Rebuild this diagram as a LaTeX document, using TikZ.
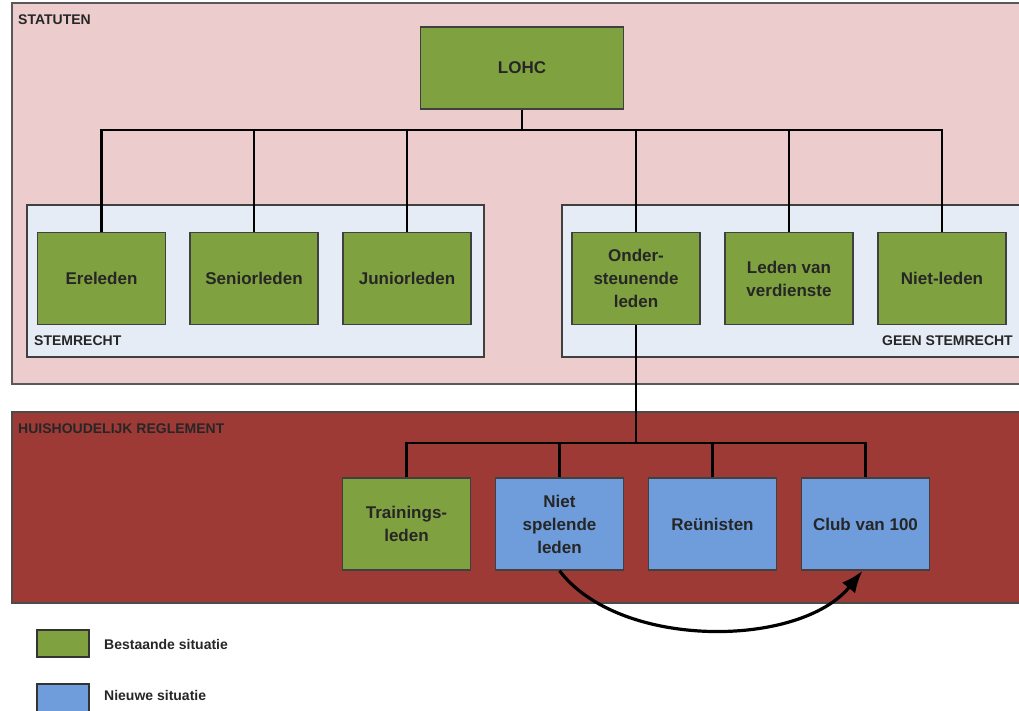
\documentclass[tikz,border=0pt]{standalone}
\usepackage{fontspec}
\setmainfont{Liberation Sans}
\usetikzlibrary{arrows.meta}

\definecolor{statbg}{RGB}{236,204,204}
\definecolor{hhrbg}{RGB}{158,58,54}
\definecolor{groupbg}{RGB}{230,236,246}
\definecolor{oudgroen}{RGB}{128,161,64}
\definecolor{nieuwblauw}{RGB}{111,157,220}

\tikzset{
  lid/.style={draw=black!75, line width=1.5pt, minimum width=128pt, minimum height=92pt,
    inner sep=2pt, align=center, text=black!85,
    font=\fontsize{17}{23}\selectfont\bfseries},
  oud/.style={lid, fill=oudgroen},
  nieuw/.style={lid, fill=nieuwblauw},
  tak/.style={line width=2.4pt},
  kop/.style={font=\fontsize{14}{16}\selectfont\bfseries, text=black!85, inner sep=0pt}
}

\begin{document}
\begin{tikzpicture}[x=1pt,y=-1pt]
	\useasboundingbox (0,0) rectangle (1019,711);
	\clip (0,0) rectangle (1019,711);

	% vlakken
	\filldraw[fill=statbg, draw=black!65, line width=1.5pt] (12,3) rectangle (1030,384);
	\filldraw[fill=hhrbg, draw=black!70, line width=1.5pt] (12,412) rectangle (1030,603);
	\filldraw[fill=groupbg, draw=black!75, line width=1.5pt] (27,205) rectangle (484,357);
	\filldraw[fill=groupbg, draw=black!75, line width=1.5pt] (562,205) rectangle (1030,357);

	\node[kop, anchor=base west] (statuten) at (18,25) {STATUTEN};
	\node[kop, anchor=base west] (hhr) at (18,433) {HUISHOUDELIJK REGLEMENT};
	\node[kop, anchor=base west] (stem) at (34,345) {STEMRECHT};
	\node[kop, anchor=base east] (geenstem) at (1013,345) {GEEN STEMRECHT};

	% leden
	\node[oud, minimum width=203pt, minimum height=82pt] (lohc) at (522,68) {LOHC};

	\node[oud] (ere) at (101.5,278.5) {Ereleden};
	\node[oud] (senior) at (254,278.5) {Seniorleden};
	\node[oud] (junior) at (407,278.5) {Juniorleden};
	\node[oud] (onder) at (636,278.5) {Onder-\\steunende\\leden};
	\node[oud] (verd) at (789,278.5) {Leden van\\verdienste};
	\node[oud] (niet) at (942,278.5) {Niet-leden};

	\node[oud] (train) at (406.5,524) {Trainings-\\leden};
	\node[nieuw] (nietsp) at (559.5,524) {Niet\\spelende\\leden};
	\node[nieuw] (reun) at (712.5,524) {Reünisten};
	\node[nieuw] (club) at (865.5,524) {Club van 100};

	% verbindingen
	\coordinate (bus) at (522,130);
	\draw[tak] (lohc.south) -- (bus);
	\foreach \n in {ere,senior,junior,onder,verd,niet}
		\draw[tak] (bus) -| (\n.north);

	\coordinate (bus2) at (636,443);
	\draw[tak] (onder.south) -- (bus2);
	\foreach \n in {train,nietsp,reun,club}
		\draw[tak] (bus2) -| (\n.north);

	\draw[line width=3.2pt, -{Latex[length=22pt,width=17pt]}]
		(nietsp.south) .. controls (620,650) and (800,648) .. ([xshift=-3pt]club.south);

	% legenda
	\node[draw=black!80, line width=1.5pt, fill=oudgroen, minimum width=52pt, minimum height=27pt] (lgoud) at (63,643.5) {};
	\node[kop, anchor=base west] (lgoudtxt) at (104,649) {Bestaande situatie};
	\node[draw=black!80, line width=1.5pt, fill=nieuwblauw, minimum width=52pt, minimum height=28pt] (lgnieuw) at (63,698) {};
	\node[kop, anchor=base west] (lgnieuwtxt) at (104,700) {Nieuwe situatie};
\end{tikzpicture}
\end{document}
